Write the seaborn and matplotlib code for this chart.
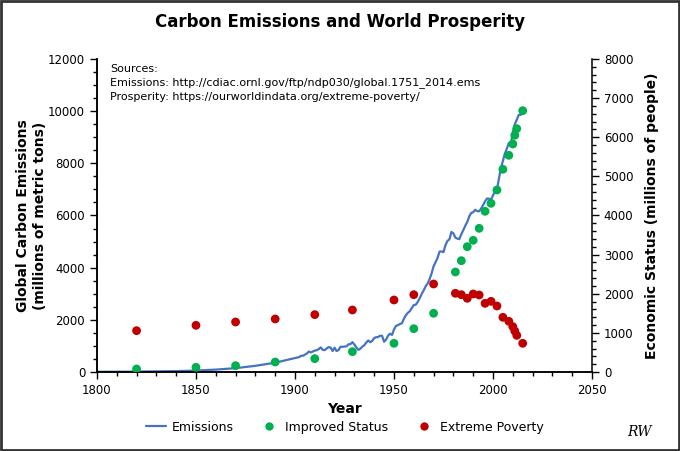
import matplotlib
matplotlib.use("Agg")
import matplotlib.pyplot as plt
import seaborn as sns
import pandas as pd
from matplotlib.ticker import MultipleLocator
from matplotlib.lines import Line2D
from matplotlib.patches import Rectangle

# ---- Data ----
em_years = [1800, 1810, 1820, 1830, 1840, 1850, 1860, 1870, 1880, 1890,
            1900, 1901, 1902, 1903, 1904, 1905, 1906, 1907, 1908, 1909,
            1910, 1911, 1912, 1913, 1914, 1915, 1916, 1917, 1918, 1919,
            1920, 1921, 1922, 1923, 1924, 1925, 1926, 1927, 1928, 1929,
            1930, 1931, 1932, 1933, 1934, 1935, 1936, 1937, 1938, 1939,
            1940, 1941, 1942, 1943, 1944, 1945, 1946, 1947, 1948, 1949,
            1950, 1951, 1952, 1953, 1954, 1955, 1956, 1957, 1958, 1959,
            1960, 1961, 1962, 1963, 1964, 1965, 1966, 1967, 1968, 1969,
            1970, 1971, 1972, 1973, 1974, 1975, 1976, 1977, 1978, 1979,
            1980, 1981, 1982, 1983, 1984, 1985, 1986, 1987, 1988, 1989,
            1990, 1991, 1992, 1993, 1994, 1995, 1996, 1997, 1998, 1999,
            2000, 2001, 2002, 2003, 2004, 2005, 2006, 2007, 2008, 2009,
            2010, 2011, 2012, 2013, 2014]
emissions = [8, 10, 14, 24, 33, 54, 91, 147, 236, 356,
             534, 552, 566, 617, 624, 663, 707, 784, 750, 785,
             819, 836, 879, 943, 850, 838, 901, 955, 936, 806,
             932, 803, 845, 970, 963, 975, 983, 1062, 1065, 1145,
             1053, 940, 847, 893, 973, 1027, 1130, 1209, 1142, 1192,
             1299, 1334, 1342, 1391, 1383, 1160, 1238, 1392, 1469, 1419,
             1630, 1767, 1795, 1841, 1865, 2042, 2177, 2270, 2330, 2454,
             2569, 2580, 2686, 2833, 2995, 3130, 3288, 3393, 3566, 3780,
             4053, 4208, 4376, 4614, 4623, 4596, 4864, 5026, 5087, 5369,
             5315, 5152, 5113, 5094, 5280, 5439, 5607, 5752, 5965, 6097,
             6127, 6217, 6164, 6162, 6266, 6398, 6542, 6651, 6643, 6610,
             6765, 6927, 6996, 7416, 7807, 8093, 8370, 8566, 8783, 8740,
             9167, 9496, 9667, 9855, 9855]

pov_years = [1820, 1850, 1870, 1890, 1910, 1929, 1950, 1960, 1970, 1981,
             1984, 1987, 1990, 1993, 1996, 1999, 2002, 2005, 2008, 2010,
             2011, 2012, 2015]
extreme_poverty = [1056, 1193, 1278, 1355, 1466, 1585, 1840, 1976, 2249, 2011,
                   1976, 1883, 1994, 1968, 1755, 1806, 1687, 1398, 1295, 1159,
                   1048, 937, 733]
improved_status = [77, 120, 162, 255, 341, 520, 733, 1107, 1500, 2556,
                   2845, 3203, 3366, 3672, 4107, 4311, 4652, 5181, 5538, 5827,
                   6050, 6219, 6679]

title = "Carbon Emissions and World Prosperity"
sources = ("Sources:\n"
           "Emissions: http://cdiac.ornl.gov/ftp/ndp030/global.1751_2014.ems\n"
           "Prosperity: https://ourworldindata.org/extreme-poverty/")

em_df = pd.DataFrame({"Year": em_years, "Emissions": emissions})
pov_df = pd.DataFrame({"Year": pov_years, "Improved Status": improved_status,
                       "Extreme Poverty": extreme_poverty})

# ---- Style ----
sns.set_theme(style="ticks")
plt.rcParams["font.family"] = ["DejaVu Sans"]
plt.rcParams["text.color"] = "black"
plt.rcParams["axes.labelcolor"] = "black"
plt.rcParams["xtick.color"] = "black"
plt.rcParams["ytick.color"] = "black"

BLUE = "#4472C4"
GREEN = "#00B050"
RED = "#C00000"

fig = plt.figure(figsize=(6.8, 4.51), dpi=100)
ax = fig.add_axes([0.1426, 0.1752, 0.728, 0.694])
ax2 = ax.twinx()

sns.lineplot(data=em_df, x="Year", y="Emissions", ax=ax, color=BLUE,
             linewidth=1.6, legend=False)
sns.scatterplot(data=pov_df, x="Year", y="Improved Status", ax=ax2,
                color=GREEN, s=40, edgecolor="none", legend=False, zorder=3)
sns.scatterplot(data=pov_df, x="Year", y="Extreme Poverty", ax=ax2,
                color=RED, s=40, edgecolor="none", legend=False, zorder=3)

ax.set_xlim(1800, 2050)
ax.set_ylim(0, 12000)
ax2.set_ylim(0, 8000)

ax.xaxis.set_major_locator(MultipleLocator(50))
ax.xaxis.set_minor_locator(MultipleLocator(10))
ax.yaxis.set_major_locator(MultipleLocator(2000))
ax.yaxis.set_minor_locator(MultipleLocator(500))
ax2.yaxis.set_major_locator(MultipleLocator(1000))
ax2.yaxis.set_minor_locator(MultipleLocator(200))

for a in (ax, ax2):
    a.tick_params(axis="both", which="major", length=5, width=1, color="black",
                  labelsize=8.5, labelcolor="black", direction="out")
    a.tick_params(axis="both", which="minor", length=3, width=1, color="black",
                  direction="out")
    for sp in a.spines.values():
        sp.set_color("black")
        sp.set_linewidth(1.1)

ax.spines["top"].set_visible(False)
ax2.spines["top"].set_visible(False)
ax.spines["right"].set_visible(False)

ax.set_xlabel("Year", fontsize=10, fontweight="bold", labelpad=4,
              color="black")
ax.set_ylabel("Global Carbon Emissions\n(millions of metric tons)", fontsize=10,
              fontweight="bold", labelpad=1, linespacing=1.25, color="black")
ax2.set_ylabel("Economic Status (millions of people)", fontsize=10,
               fontweight="bold", labelpad=8, color="black")

fig.text(0.5, 0.952, title, ha="center", va="center", fontsize=12,
         fontweight="bold", color="black")
ax.text(0.026, 0.985, sources, transform=ax.transAxes, ha="left", va="top",
        fontsize=8, linespacing=1.45, color="black")

handles = [Line2D([0], [0], color=BLUE, lw=1.6),
           Line2D([0], [0], marker="o", color="none", markerfacecolor=GREEN,
                  markeredgecolor="none", markersize=6),
           Line2D([0], [0], marker="o", color="none", markerfacecolor=RED,
                  markeredgecolor="none", markersize=6)]
leg = fig.legend(handles, ["Emissions", "Improved Status", "Extreme Poverty"],
                 loc="center", bbox_to_anchor=(0.507, 0.053), ncol=3,
                 frameon=False, fontsize=9, handlelength=1.6,
                 handletextpad=0.5, columnspacing=2.0)
for t in leg.get_texts():
    t.set_color("black")

fig.text(0.94, 0.042, "RW", ha="center", va="center", fontsize=10,
         fontstyle="italic", family=["DejaVu Serif"], color="black")

fig.patches.append(Rectangle((0.002, 0.003), 0.996, 0.994,
                             transform=fig.transFigure, fill=False,
                             edgecolor="#333333", linewidth=2))

fig.savefig("out.png", dpi=100)
